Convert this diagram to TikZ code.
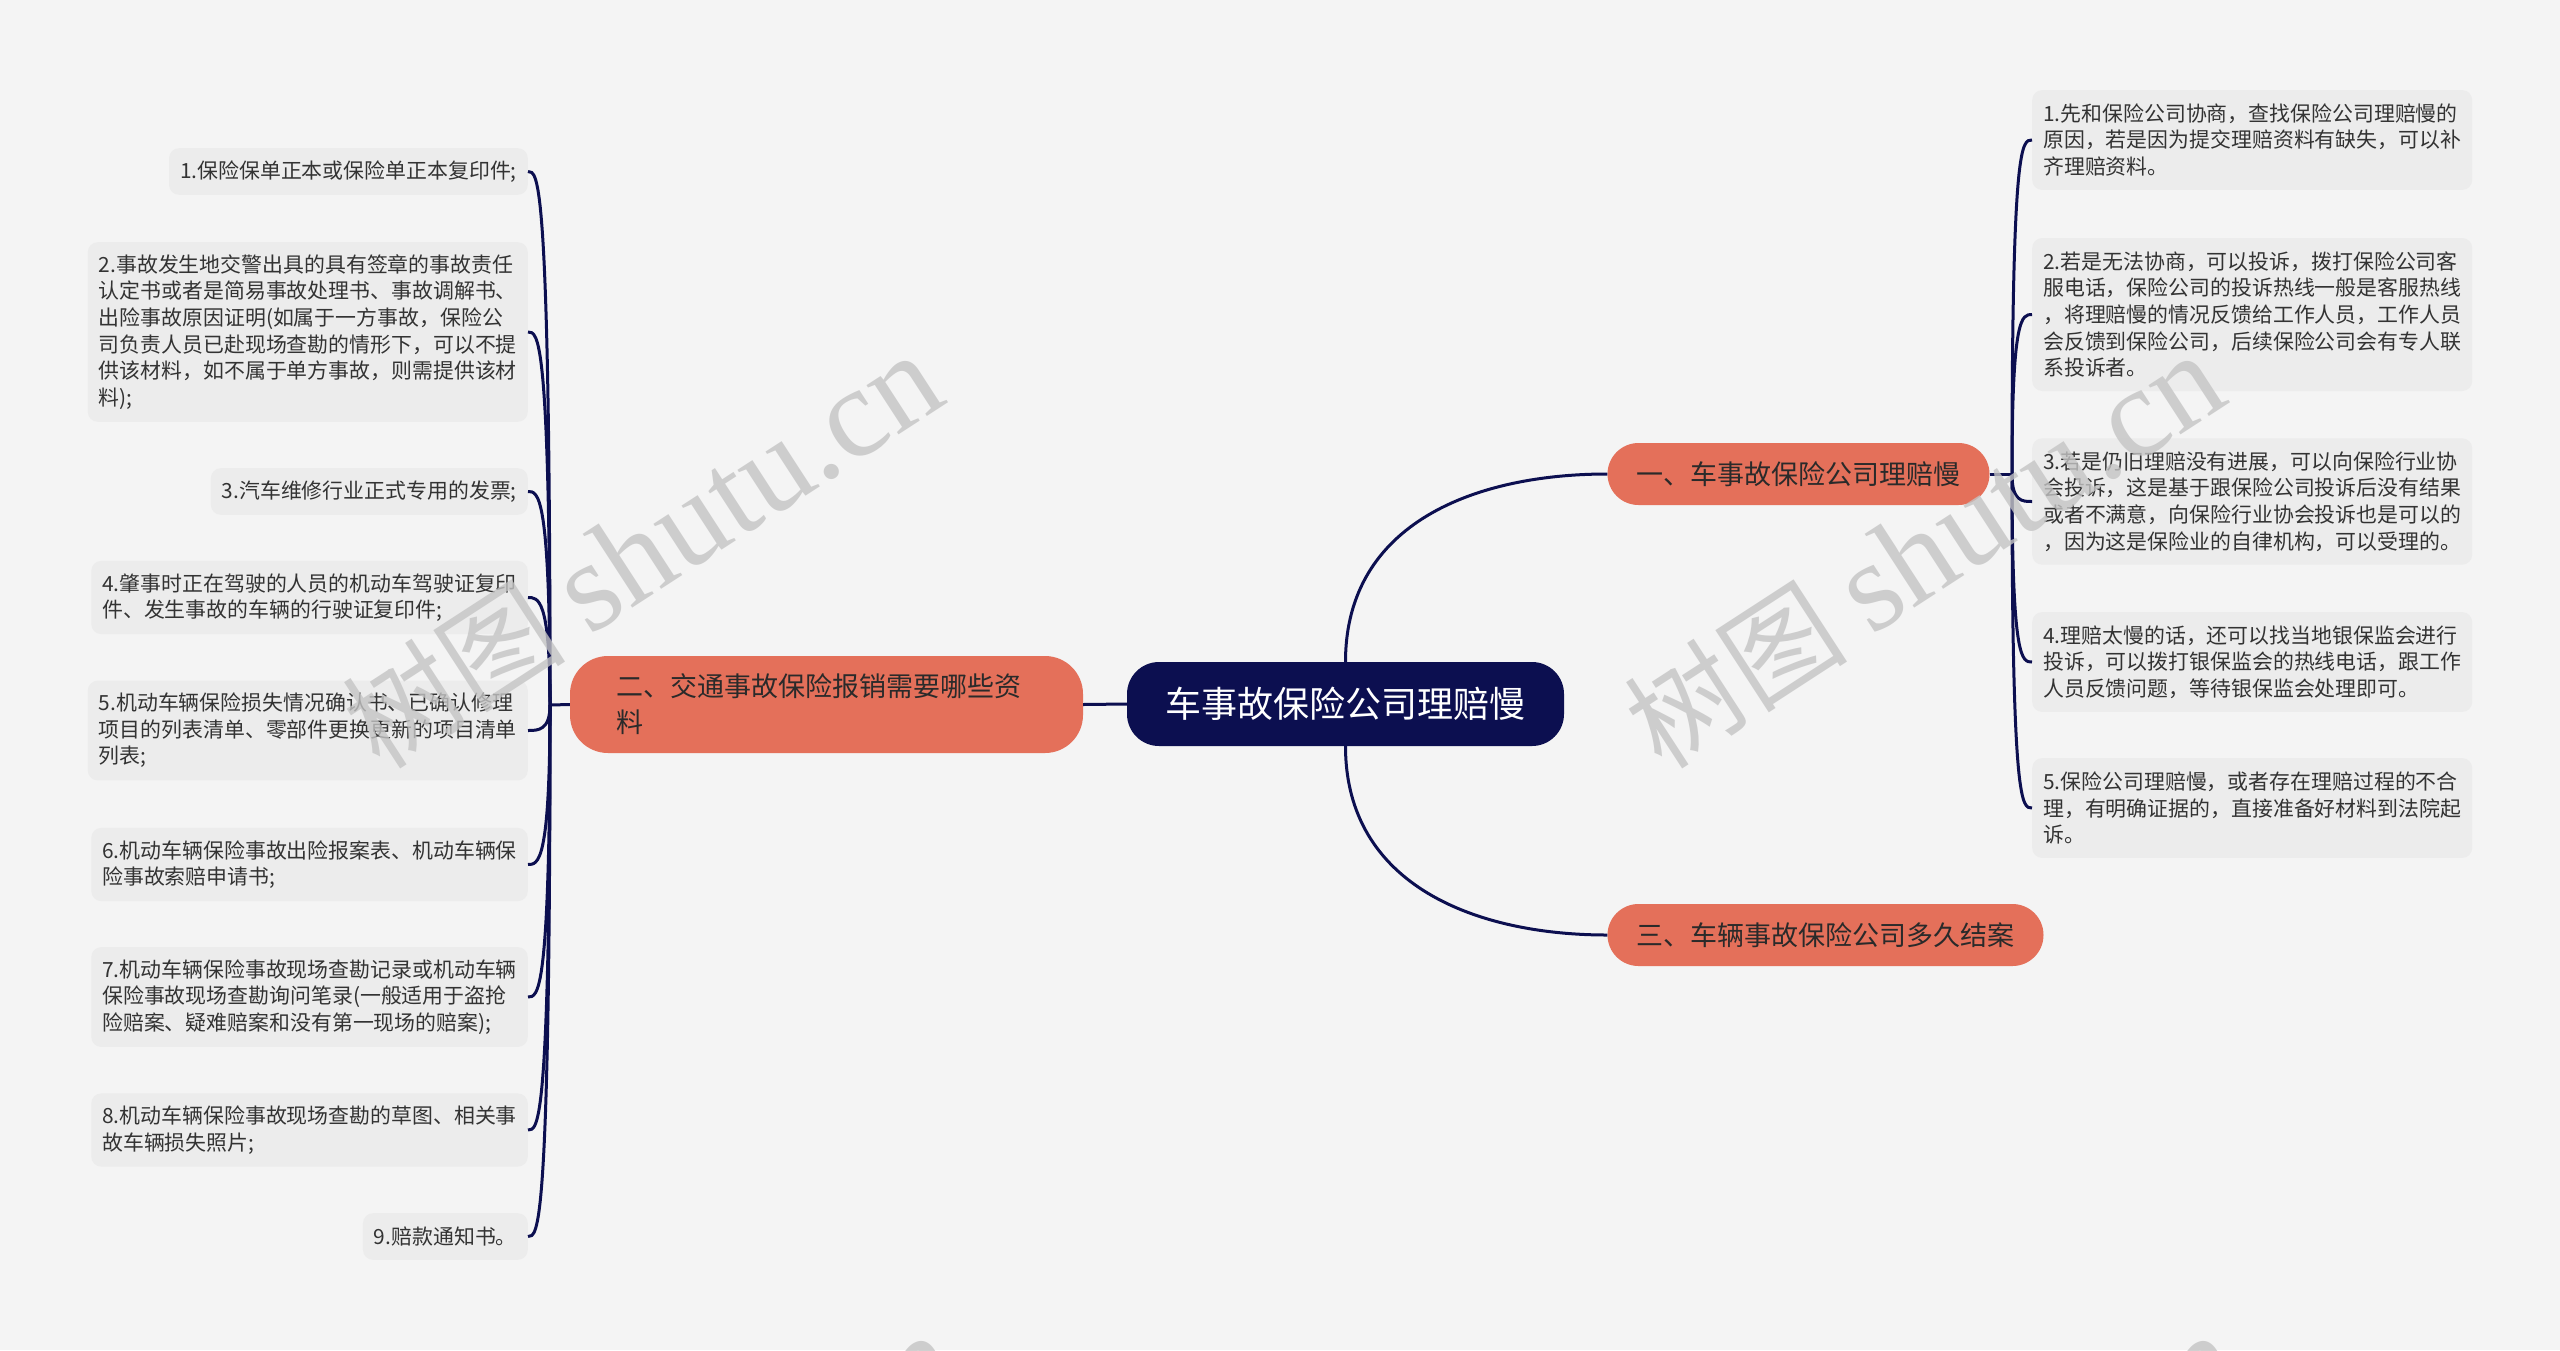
\documentclass[tikz,border=0pt]{standalone}
\usepackage{fontspec}
\setmainfont{Noto Sans CJK SC}
\newfontfamily\wmserif{Liberation Serif}
\definecolor{bgc}{HTML}{F4F4F4}
\definecolor{leafc}{HTML}{ECECEC}
\definecolor{txtc}{HTML}{333333}
\definecolor{navy}{HTML}{0C0F50}
\definecolor{brc}{HTML}{E4705A}
\definecolor{brtxt}{HTML}{2A2A2A}
\definecolor{wmc}{HTML}{C4C4C4}
\newcommand{\wmtext}{树图 {\wmserif\fontsize{128}{130}\selectfont shutu.cn}}
\begin{document}
\begin{tikzpicture}[x=1pt,y=-1pt,
  leaf/.style={fill=leafc, rounded corners=10pt, inner xsep=11pt, inner ysep=3pt,
    align=left, font=\fontsize{20.9}{26.6}\selectfont, text=txtc},
  lleaf/.style={leaf, anchor=east},
  rleaf/.style={leaf, anchor=west},
  branchbox/.style={fill=brc, rounded corners=31pt, font=\fontsize{27}{36}\selectfont,
    text=brtxt, minimum height=62pt, inner xsep=29pt, inner ysep=3pt},
  rootbox/.style={fill=navy, rounded corners=32pt, font=\fontsize{36}{44}\selectfont,
    text=white, minimum width=437pt, minimum height=84pt},
  conn/.style={draw=navy, line width=3pt},
  wm/.style={text=wmc, text opacity=0.8, font=\fontsize{112}{120}\selectfont,
    rotate=33, anchor=base west, inner sep=0pt}
]
\useasboundingbox (0,0) rectangle (2560,1350);
\fill[bgc] (0,0) rectangle (2560,1350);

% central and main branches
\node[rootbox] (root) at (1345.5,704) {车事故保险公司理赔慢};
\node[branchbox, rounded corners=38pt, minimum height=97pt, text width=420pt,
  align=left, inner xsep=46.5pt] (b2) at (826.5,704.5) {二、交通事故保险报销需要哪些资\\料};
\node[branchbox] (b1) at (1798.5,474) {一、车事故保险公司理赔慢};
\node[branchbox] (b3) at (1825.5,935) {三、车辆事故保险公司多久结案};

% left leaves
\node[lleaf, minimum height=46.6pt] (l1) at (528,171.5) {1.保险保单正本或保险单正本复印件;};
\node[lleaf, minimum height=179.6pt] (l2) at (528,332) {2.事故发生地交警出具的具有签章的事故责任\\认定书或者是简易事故处理书、事故调解书、\\出险事故原因证明(如属于一方事故，保险公\\司负责人员已赴现场查勘的情形下，可以不提\\供该材料，如不属于单方事故，则需提供该材\\料);};
\node[lleaf, minimum height=46.6pt] (l3) at (528,491.5) {3.汽车维修行业正式专用的发票;};
\node[lleaf, minimum height=73.2pt] (l4) at (528,597.5) {4.肇事时正在驾驶的人员的机动车驾驶证复印\\件、发生事故的车辆的行驶证复印件;};
\node[lleaf, minimum height=99.8pt] (l5) at (528,730.5) {5.机动车辆保险损失情况确认书、已确认修理\\项目的列表清单、零部件更换更新的项目清单\\列表;};
\node[lleaf, minimum height=73.2pt] (l6) at (528,864.5) {6.机动车辆保险事故出险报案表、机动车辆保\\险事故索赔申请书;};
\node[lleaf, minimum height=99.8pt] (l7) at (528,997) {7.机动车辆保险事故现场查勘记录或机动车辆\\保险事故现场查勘询问笔录(一般适用于盗抢\\险赔案、疑难赔案和没有第一现场的赔案);};
\node[lleaf, minimum height=73.2pt] (l8) at (528,1130) {8.机动车辆保险事故现场查勘的草图、相关事\\故车辆损失照片;};
\node[lleaf, minimum height=46.6pt] (l9) at (528,1236.5) {9.赔款通知书。};

% right leaves
\node[rleaf, minimum height=99.8pt] (r1) at (2032,140) {1.先和保险公司协商，查找保险公司理赔慢的\\原因，若是因为提交理赔资料有缺失，可以补\\齐理赔资料。};
\node[rleaf, minimum height=153pt] (r2) at (2032,314.5) {2.若是无法协商，可以投诉，拨打保险公司客\\服电话，保险公司的投诉热线一般是客服热线\\，将理赔慢的情况反馈给工作人员，工作人员\\会反馈到保险公司，后续保险公司会有专人联\\系投诉者。};
\node[rleaf, minimum height=126.4pt] (r3) at (2032,501.5) {3.若是仍旧理赔没有进展，可以向保险行业协\\会投诉，这是基于跟保险公司投诉后没有结果\\或者不满意，向保险行业协会投诉也是可以的\\，因为这是保险业的自律机构，可以受理的。};
\node[rleaf, minimum height=99.8pt] (r4) at (2032,662) {4.理赔太慢的话，还可以找当地银保监会进行\\投诉，可以拨打银保监会的热线电话，跟工作\\人员反馈问题，等待银保监会处理即可。};
\node[rleaf, minimum height=99.8pt] (r5) at (2032,808) {5.保险公司理赔慢，或者存在理赔过程的不合\\理，有明确证据的，直接准备好材料到法院起\\诉。};

% junctions
\coordinate (jL) at (550,705);
\coordinate (jR) at (2012,474);

% connectors
\draw[conn] (root.west) -- (b2.east);
\draw[conn] (root.north) .. controls +(0,-140) and +(-130,0) .. (b1.west);
\draw[conn] (root.south) .. controls +(0,140) and +(-130,0) .. (b3.west);
\draw[conn] (b2.west) -- (jL);
\draw[conn] (b1.east) -- (jR);
\foreach \n in {l1,l2,l3,l4,l5,l6,l7,l8,l9}
  \draw[conn] (jL) .. controls (jL |- \n.east) and +(10,0) .. (\n.east);
\foreach \n in {r1,r2,r3,r4,r5}
  \draw[conn] (jR) .. controls (jR |- \n.west) and +(-10,0) .. (\n.west);

% watermarks
\begin{scope}
\clip (0,0) rectangle (2560,1350);
\node[wm] (wm1) at (380,772) {\wmtext};
\node[wm] (wm2) at (1662,772) {\wmtext};
\node[wm] (wm3) at (396,1752) {\wmtext};
\node[wm] (wm4) at (1678,1752) {\wmtext};
\end{scope}
\end{tikzpicture}
\end{document}
